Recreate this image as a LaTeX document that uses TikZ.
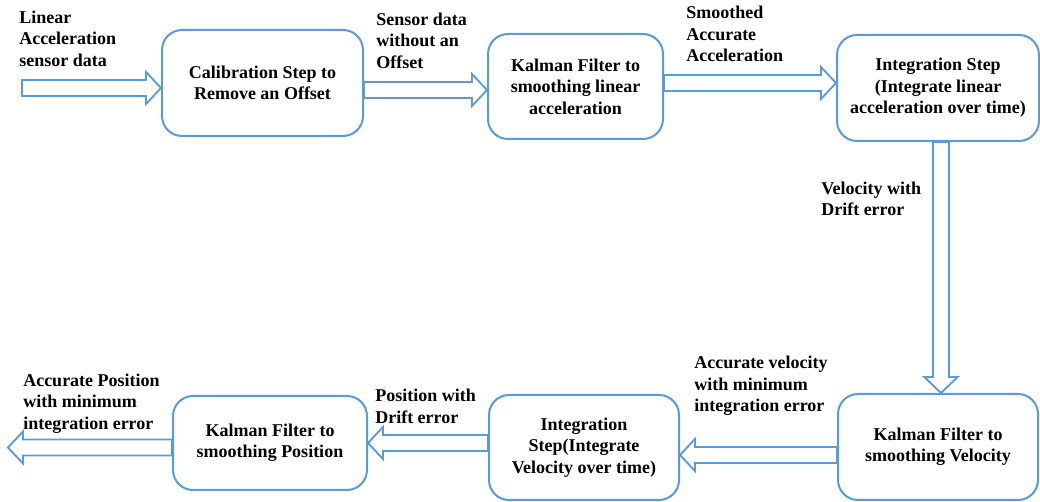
\documentclass[tikz,border=0pt]{standalone}
\usepackage{fontspec}
\setmainfont{Liberation Serif}[BoldFont={Liberation Serif Bold}]
\newfontfamily\flowfont{Liberation Serif Bold}
\usetikzlibrary{calc}

\definecolor{flowblue}{RGB}{91,155,213}

\tikzset{
  stage/.style={draw=flowblue, line width=1.5pt, rounded corners=15pt,
    align=center, inner sep=0pt},
  flowlabel/.style={anchor=north west, align=left, inner sep=0pt},
  blockarrow/.style={draw=flowblue, line width=1.4pt, line join=miter},
}

% hollow block arrow, horizontal: tail point, tip point
\newcommand\harrow[2]{%
  \draw[blockarrow] let \p1=(#1), \p2=(#2), \p3=($(#2)!11.25pt!(#1)$) in
    (\x1,\y1+6pt) -- (\x3,\y1+6pt) -- (\x3,\y1+12pt) -- (\x2,\y2)
    -- (\x3,\y1-12pt) -- (\x3,\y1-6pt) -- (\x1,\y1-6pt) -- cycle;}
% hollow block arrow, vertical: tail point, tip point
\newcommand\varrow[2]{%
  \draw[blockarrow] let \p1=(#1), \p2=(#2), \p3=($(#2)!12pt!(#1)$) in
    (\x1+6pt,\y1) -- (\x1+6pt,\y3) -- (\x1+12.5pt,\y3) -- (\x2,\y2)
    -- (\x1-12.5pt,\y3) -- (\x1-6pt,\y3) -- (\x1-6pt,\y1) -- cycle;}

\begin{document}
\begin{tikzpicture}[x=0.75pt, y=-0.75pt,
  font=\flowfont\fontsize{13.5pt}{16.1pt}\selectfont]
\useasboundingbox (0,0) rectangle (1040,502);

% processing stages
\node[stage, minimum width=201*0.75pt, minimum height=106*0.75pt] (calib) at (262.5,83)
  {Calibration Step to\\Remove an Offset};
\node[stage, minimum width=175*0.75pt, minimum height=105*0.75pt] (kfacc) at (575.5,86.5)
  {Kalman Filter to\\smoothing linear\\acceleration};
\node[stage, minimum width=202*0.75pt, minimum height=106*0.75pt] (intacc) at (938,88)
  {Integration Step\\(Integrate linear\\acceleration over time)};
\node[stage, minimum width=200*0.75pt, minimum height=106*0.75pt] (kfvel) at (938,447)
  {Kalman Filter to\\smoothing Velocity};
\node[stage, minimum width=190*0.75pt, minimum height=105*0.75pt] (intvel) at (584,447.5)
  {Integration\\Step(Integrate\\Velocity over time)};
\node[stage, minimum width=194*0.75pt, minimum height=94*0.75pt] (kfpos) at (270,443)
  {Kalman Filter to\\smoothing Position};

% reference levels for the connectors
\coordinate (input) at (22,88);
\coordinate (output) at (8,447.5);
\coordinate (lvlA) at (0,90);
\coordinate (lvlB) at (0,83);
\coordinate (lvlC) at (941,0);
\coordinate (lvlD) at (0,455);
\coordinate (lvlE) at (0,443);

% connectors
\harrow{input}{calib.west |- input}
\harrow{calib.east |- lvlA}{kfacc.west |- lvlA}
\harrow{kfacc.east |- lvlB}{intacc.west |- lvlB}
\varrow{intacc.south -| lvlC}{kfvel.north -| lvlC}
\harrow{kfvel.west |- lvlD}{intvel.east |- lvlD}
\harrow{intvel.west |- lvlE}{kfpos.east |- lvlE}
\harrow{kfpos.west |- output}{output}

% signal labels
\node[flowlabel] (lblin) at (19,10.5) {Linear\\Acceleration\\sensor data};
\node[flowlabel] (lbloff) at (376,12.5) {Sensor data\\without an\\Offset};
\node[flowlabel] (lblsm) at (686,6) {Smoothed\\Accurate\\Acceleration};
\node[flowlabel] (lblvd) at (821,181.5) {Velocity with\\Drift error};
\node[flowlabel] (lblva) at (694,356) {Accurate velocity\\with minimum\\integration error};
\node[flowlabel] (lblpd) at (375,389) {Position with\\Drift error};
\node[flowlabel] (lblpa) at (23,373.5) {Accurate Position\\with minimum\\integration error};
\end{tikzpicture}
\end{document}
